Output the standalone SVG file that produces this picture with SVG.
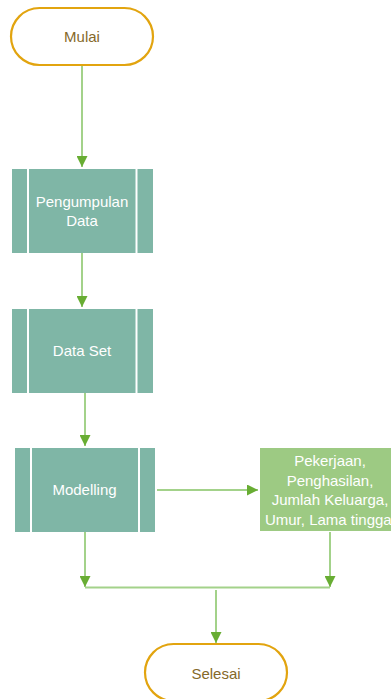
<svg xmlns="http://www.w3.org/2000/svg" width="391" height="699" viewBox="0 0 391 699">
<defs>
<marker id="ah" markerUnits="userSpaceOnUse" markerWidth="11" markerHeight="11" viewBox="0 0 11 11" refX="11" refY="5.5" orient="auto">
<path d="M0,0 L11,5.5 L0,11 z" fill="#68AD33"/>
</marker>
<style>
.term{fill:#FFFFFF;stroke:#E2A40F;stroke-width:2.2}
.tt{font-family:"Liberation Sans",Arial,sans-serif;font-size:15px;fill:#85692A;text-anchor:middle}
.proc{fill:#7FB6A6}
.sep{stroke:#FFFFFF;stroke-width:2}
.wt{font-family:"Liberation Sans",Arial,sans-serif;font-size:15px;fill:#FFFFFF;text-anchor:middle}
.data{fill:#9DCA83}
.con{fill:none;stroke:#A3D28A;stroke-width:2}
.arr{marker-end:url(#ah)}
</style>
</defs>
<g id="connectors">
<line class="con arr" x1="82" y1="66" x2="82" y2="167"/>
<line class="con arr" x1="82" y1="253" x2="82" y2="307"/>
<line class="con arr" x1="85" y1="393" x2="85" y2="446"/>
<line class="con arr" x1="157" y1="490" x2="258" y2="490"/>
<line class="con arr" x1="85" y1="532" x2="85" y2="587"/>
<line class="con arr" x1="330" y1="532" x2="330" y2="587"/>
<line class="con" x1="85" y1="587.5" x2="330" y2="587.5"/>
<line class="con arr" x1="216" y1="590" x2="216" y2="643"/>
</g>
<g id="mulai">
<rect class="term" x="11" y="8" width="142" height="57" rx="28.5"/>
<text class="tt" x="82" y="41.5">Mulai</text>
</g>
<g id="pengumpulan">
<rect class="proc" x="12" y="169" width="141" height="84"/>
<line class="sep" x1="28" y1="169" x2="28" y2="253"/>
<line class="sep" x1="136.5" y1="169" x2="136.5" y2="253"/>
<text class="wt" x="82" y="206.5">Pengumpulan</text>
<text class="wt" x="82" y="225.5">Data</text>
</g>
<g id="dataset">
<rect class="proc" x="12" y="309" width="141" height="84"/>
<line class="sep" x1="28" y1="309" x2="28" y2="393"/>
<line class="sep" x1="136.5" y1="309" x2="136.5" y2="393"/>
<text class="wt" x="82" y="356">Data Set</text>
</g>
<g id="modelling">
<rect class="proc" x="15" y="448" width="140" height="84"/>
<line class="sep" x1="31" y1="448" x2="31" y2="532"/>
<line class="sep" x1="139" y1="448" x2="139" y2="532"/>
<text class="wt" x="84.5" y="495">Modelling</text>
</g>
<g id="variabel">
<rect class="data" x="260" y="448" width="140" height="83"/>
<text class="wt" x="330" y="466">Pekerjaan,</text>
<text class="wt" x="330" y="485.5">Penghasilan,</text>
<text class="wt" x="330" y="505">Jumlah Keluarga,</text>
<text class="wt" x="330" y="524.5">Umur, Lama tinggal</text>
</g>
<g id="selesai">
<rect class="term" x="145" y="644" width="142" height="57" rx="28.5"/>
<text class="tt" x="216" y="679">Selesai</text>
</g>
</svg>
